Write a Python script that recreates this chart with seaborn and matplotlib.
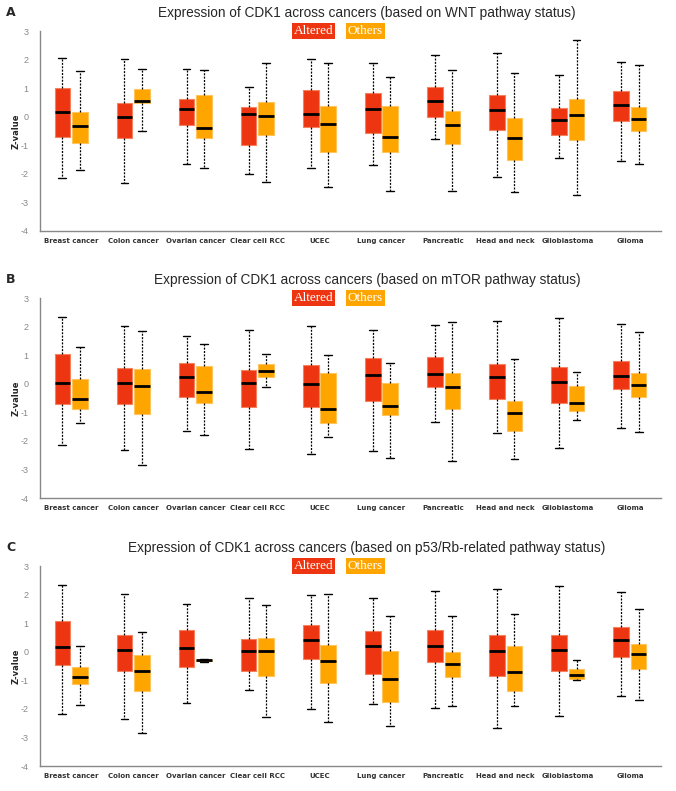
import pandas as pd
import seaborn as sns
import matplotlib.pyplot as plt

cancers = ['Breast cancer', 'Colon cancer', 'Ovarian cancer', 'Clear cell RCC', 'UCEC',
           'Lung cancer', 'Pancreatic', 'Head and neck', 'Glioblastoma', 'Glioma']
groups = ['Altered', 'Others']

# five-number summaries: (min, q1, median, q3, max)
wnt_altered = [(-2.16, -0.70, 0.17, 0.99, 2.07), (-2.33, -0.74, -0.02, 0.49, 2.01),
               (-1.66, -0.30, 0.26, 0.62, 1.66), (-2.02, -0.99, 0.08, 0.34, 1.03),
               (-1.79, -0.36, 0.10, 0.92, 2.01), (-1.69, -0.57, 0.28, 0.84, 1.89),
               (-0.77, 0.00, 0.55, 1.04, 2.15), (-2.11, -0.46, 0.25, 0.77, 2.22),
               (-1.46, -0.64, -0.12, 0.29, 1.45), (-1.54, -0.16, 0.41, 0.91, 1.93)]
wnt_others = [(-1.86, -0.91, -0.32, 0.15, 1.60), (-0.50, 0.49, 0.55, 0.96, 1.68),
              (-1.79, -0.74, -0.39, 0.76, 1.62), (-2.29, -0.65, 0.02, 0.50, 1.89),
              (-2.46, -1.24, -0.27, 0.37, 1.87), (-2.59, -1.25, -0.70, 0.37, 1.40),
              (-2.59, -0.95, -0.29, 0.21, 1.62), (-2.65, -1.52, -0.76, -0.06, 1.53),
              (-2.74, -0.82, 0.06, 0.61, 2.70), (-1.67, -0.51, -0.07, 0.33, 1.80)]

mtor_altered = [(-2.15, -0.72, 0.04, 1.03, 2.35), (-2.33, -0.70, 0.02, 0.54, 2.01),
                (-1.66, -0.46, 0.25, 0.72, 1.66), (-2.29, -0.81, 0.02, 0.48, 1.88),
                (-2.45, -0.81, 0.00, 0.64, 2.01), (-2.37, -0.60, 0.30, 0.89, 1.88),
                (-1.33, -0.13, 0.33, 0.93, 2.05), (-1.72, -0.53, 0.22, 0.69, 2.21),
                (-2.24, -0.67, 0.07, 0.60, 2.30), (-1.55, -0.20, 0.26, 0.81, 2.09)]
mtor_others = [(-1.38, -0.88, -0.53, 0.15, 1.27), (-2.86, -1.05, -0.07, 0.53, 1.84),
               (-1.79, -0.67, -0.28, 0.62, 1.38), (-0.11, 0.23, 0.46, 0.69, 1.05),
               (-1.87, -1.38, -0.88, 0.37, 1.02), (-2.59, -1.09, -0.77, 0.01, 0.71),
               (-2.70, -0.90, -0.11, 0.36, 2.16), (-2.65, -1.65, -1.03, -0.60, 0.88),
               (-1.28, -0.97, -0.68, -0.07, 0.40), (-1.68, -0.48, -0.05, 0.36, 1.81)]

p53_altered = [(-2.17, -0.47, 0.15, 1.07, 2.35), (-2.34, -0.66, 0.05, 0.58, 2.03),
               (-1.79, -0.55, 0.14, 0.76, 1.66), (-1.35, -0.69, 0.02, 0.45, 1.89),
               (-1.99, -0.27, 0.40, 0.92, 1.98), (-1.83, -0.79, 0.21, 0.73, 1.89),
               (-1.97, -0.37, 0.19, 0.76, 2.14), (-2.68, -0.86, 0.02, 0.58, 2.21),
               (-2.26, -0.66, 0.05, 0.58, 2.29), (-1.55, -0.20, 0.42, 0.88, 2.08)]
p53_others = [(-1.85, -1.14, -0.87, -0.54, 0.20), (-2.86, -1.36, -0.69, -0.10, 0.69),
              (-0.35, -0.34, -0.30, -0.28, -0.25), (-2.30, -0.84, 0.02, 0.49, 1.62),
              (-2.47, -1.08, -0.31, 0.22, 2.01), (-2.61, -1.77, -0.94, 0.01, 1.25),
              (-1.90, -0.90, -0.44, -0.01, 1.25), (-1.90, -1.36, -0.70, 0.19, 1.32),
              (-0.98, -0.94, -0.83, -0.61, -0.28), (-1.69, -0.62, -0.09, 0.26, 1.49)]

panels = [
    ('A', 'Expression of CDK1 across cancers (based on WNT pathway status)', wnt_altered, wnt_others),
    ('B', 'Expression of CDK1 across cancers (based on mTOR pathway status)', mtor_altered, mtor_others),
    ('C', 'Expression of CDK1 across cancers (based on p53/Rb-related pathway status)', p53_altered, p53_others),
]

red = '#EE3511'
orange = '#FFA500'
edge = {'Altered': '#F7805F', 'Others': '#FFC45C'}


def to_frame(altered, others):
    # five points per box give exactly these quartiles with whis=(0, 100)
    rows = []
    for grp, summ in zip(groups, [altered, others]):
        for cancer, vals in zip(cancers, summ):
            for v in vals:
                rows.append({'cancer': cancer, 'group': grp, 'z': v})
    return pd.DataFrame(rows)


sns.set_style('white')
plt.rcParams['font.family'] = ['Liberation Sans', 'DejaVu Sans']
plt.rcParams['axes.unicode_minus'] = False

fig = plt.figure(figsize=(6.76, 7.91), dpi=100)
bottoms = [560 / 791, 293 / 791, 25 / 791]

for (letter, title, alt, oth), bot in zip(panels, bottoms):
    ax = fig.add_axes([40 / 676, bot, 621 / 676, 200 / 791])
    df = to_frame(alt, oth)
    sns.boxplot(data=df, x='cancer', y='z', hue='group', order=cancers, hue_order=groups,
                palette=[red, orange], saturation=1, whis=(0, 100), width=0.56, gap=0.1,
                linecolor='black', linewidth=1, legend=False, ax=ax,
                whiskerprops={'linestyle': (0, (1.6, 1.1)), 'linewidth': 0.9},
                medianprops={'linewidth': 2},
                capprops={'linewidth': 1})
    for patch in ax.patches:
        fc = patch.get_facecolor()
        patch.set_edgecolor(edge['Altered'] if fc[1] < 0.4 else edge['Others'])
        patch.set_linewidth(0.8)

    ax.set_xlim(-0.5, 9.5)
    ax.set_ylim(-4, 3)
    ax.set_yticks(range(-4, 4))
    ax.set_xlabel('')
    ax.set_ylabel('Z-value', fontsize=6, fontweight='bold', family='DejaVu Sans', labelpad=0)
    ax.set_xticks(range(10))
    ax.set_xticklabels(cancers, fontsize=5, fontweight='bold', family='DejaVu Sans', color='#333333')
    ax.set_xticks([i + 0.5 for i in range(10)], minor=True)
    ax.tick_params(axis='x', which='major', length=0, pad=5)
    ax.tick_params(axis='x', which='minor', length=5, color='#bbbbbb', width=0.8)
    ax.tick_params(axis='y', length=5, color='#777777', labelcolor='#888888', labelsize=6.5, width=0.8)
    sns.despine(ax=ax)
    for s in ['left', 'bottom']:
        ax.spines[s].set_color('#888888')
        ax.spines[s].set_linewidth(1)

    ax.annotate(title, xy=(0.5, 1), xycoords='axes fraction', xytext=(12, 13),
                textcoords='offset points', ha='center', va='center', fontsize=9.8)
    ax.annotate(letter, xy=(0, 1), xycoords='axes fraction', xytext=(-21, 13),
                textcoords='offset points', ha='center', va='center', fontsize=9,
                fontweight='bold', family='DejaVu Sans')
    ax.annotate('Altered', xy=(0.5, 1), xycoords='axes fraction', xytext=(-12.5, 0),
                textcoords='offset points', ha='right', va='center', fontsize=9.5,
                family='Liberation Serif', color='white',
                bbox=dict(boxstyle='square,pad=0.15', fc=red, ec='none'))
    ax.annotate('Others', xy=(0.5, 1), xycoords='axes fraction', xytext=(-2, 0),
                textcoords='offset points', ha='left', va='center', fontsize=9.5,
                family='Liberation Serif', color='white',
                bbox=dict(boxstyle='square,pad=0.15', fc=orange, ec='none'))

fig.savefig('out.png', dpi=100)
